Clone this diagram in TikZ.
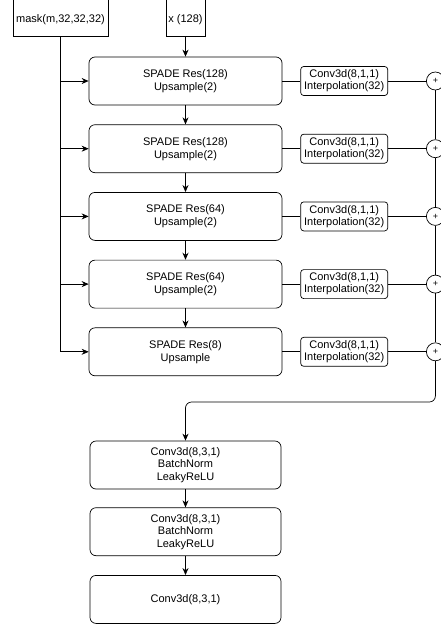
\documentclass[tikz,border=0pt]{standalone}
\usepackage{fontspec}
\setmainfont{Liberation Sans}
\usetikzlibrary{shapes,arrows.meta,positioning}

\begin{document}
\begin{tikzpicture}[x=1pt, y=-1pt, line width=0.7pt, >={Stealth[length=7pt,width=6pt]},
  every node/.style={font=\fontsize{11}{13}\selectfont},
  inbox/.style={draw, rectangle, align=center, inner sep=1pt, text height=13.5pt, text depth=0pt},
  resblock/.style={draw, rectangle, rounded corners=6pt, minimum width=193pt, minimum height=48pt, align=center},
  convbox/.style={draw, rectangle, rounded corners=3pt, minimum width=87pt, minimum height=29pt, inner sep=0pt, align=center, font=\fontsize{11}{12}\selectfont},
  addop/.style={draw, circle, minimum size=18pt, inner sep=0pt, font=\fontsize{9}{9}\selectfont},
  outblock/.style={resblock, minimum width=191pt, font=\fontsize{11}{12.5}\selectfont}]
\useasboundingbox (0,0) rectangle (441,625);
% inputs
\node[inbox, minimum width=95pt, minimum height=40pt] (mask) at (60.5,16) {mask(m,32,32,32)};
\node[inbox, minimum width=39pt, minimum height=40pt] (xin) at (185.5,16) {x (128)};
% SPADE residual blocks
\node[resblock] (res1) at (185.5,81) {SPADE Res(128)\\Upsample(2)};
\node[resblock, below=19pt of res1] (res2) {SPADE Res(128)\\Upsample(2)};
\node[resblock, below=19pt of res2] (res3) {SPADE Res(64)\\Upsample(2)};
\node[resblock, below=19pt of res3] (res4) {SPADE Res(64)\\Upsample(2)};
\node[resblock, below=19pt of res4] (res5) {SPADE Res(8)\\Upsample};
% side branches
\node[convbox, right=18pt of res1] (conv1) {Conv3d(8,1,1)\\Interpolation(32)};
\node[convbox, right=18pt of res2] (conv2) {Conv3d(8,1,1)\\Interpolation(32)};
\node[convbox, right=18pt of res3] (conv3) {Conv3d(8,1,1)\\Interpolation(32)};
\node[convbox, right=18pt of res4] (conv4) {Conv3d(8,1,1)\\Interpolation(32)};
\node[convbox, right=18pt of res5] (conv5) {Conv3d(8,1,1)\\Interpolation(32)};
\node[addop, right=38pt of conv1] (add1) {+};
\node[addop, right=38pt of conv2] (add2) {+};
\node[addop, right=38pt of conv3] (add3) {+};
\node[addop, right=38pt of conv4] (add4) {+};
\node[addop, right=38pt of conv5] (add5) {+};
% output head
\node[outblock] (out1) at (185.5,465) {Conv3d(8,3,1)\\BatchNorm\\LeakyReLU};
\node[outblock, below=18pt of out1] (out2) {Conv3d(8,3,1)\\BatchNorm\\LeakyReLU};
\node[outblock, below=19pt of out2] (out3) {Conv3d(8,3,1)};
\coordinate (turn) at (0,402);

\draw[->] (xin) -- (res1);
\draw[->] (res1) -- (res2);
\draw[->] (res2) -- (res3);
\draw[->] (res3) -- (res4);
\draw[->] (res4) -- (res5);
\draw[->] (mask.south) |- (res5.west);
\draw[->] (mask.south |- res1.west) -- (res1.west);
\draw[->] (mask.south |- res2.west) -- (res2.west);
\draw[->] (mask.south |- res3.west) -- (res3.west);
\draw[->] (mask.south |- res4.west) -- (res4.west);
\draw (res1) -- (conv1) -- (add1);
\draw (res2) -- (conv2) -- (add2);
\draw (res3) -- (conv3) -- (add3);
\draw (res4) -- (conv4) -- (add4);
\draw (res5) -- (conv5) -- (add5);
\draw (add1) -- (add2);
\draw (add2) -- (add3);
\draw (add3) -- (add4);
\draw (add4) -- (add5);
\draw[->, rounded corners=6pt] (add5) -- (add5 |- turn) -| (out1);
\draw[->] (out1) -- (out2);
\draw[->] (out2) -- (out3);
\end{tikzpicture}
\end{document}
